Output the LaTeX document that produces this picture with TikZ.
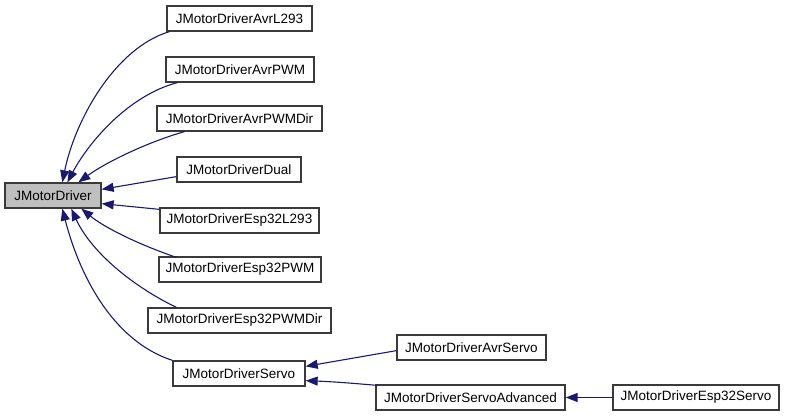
\documentclass[tikz,border=0pt]{standalone}
\usepackage{fontspec}
\setmainfont{Liberation Sans}
\usetikzlibrary{arrows.meta,calc}
\definecolor{edgecol}{HTML}{191970}
\definecolor{boxborder}{HTML}{3A3A3A}
\definecolor{curfill}{HTML}{BFBFBF}
\tikzset{
  cls/.style={draw=boxborder, line width=1.3pt, fill=white, minimum height=25pt, inner sep=0pt, anchor=center,
    font=\fontsize{13.5}{15}\selectfont},
  cur/.style={cls, fill=curfill},
  edge/.style={draw=edgecol, line width=1.1pt, -{Triangle[length=12pt,width=9pt]}},
}
\begin{document}
\begin{tikzpicture}[x=1pt,y=-1pt]
\useasboundingbox (0,0) rectangle (785,417);
\node[cur, minimum width=96pt] (jmd) at (53,195.5) {JMotorDriver};
\node[cls, minimum width=145pt] (avrl293) at (239.5,18.5) {JMotorDriverAvrL293};
\node[cls, minimum width=148pt] (avrpwm) at (240,69.5) {JMotorDriverAvrPWM};
\node[cls, minimum width=165pt] (avrpwmdir) at (239.5,118.5) {JMotorDriverAvrPWMDir};
\node[cls, minimum width=124pt] (dual) at (239,169.5) {JMotorDriverDual};
\node[cls, minimum width=159pt] (esp32l293) at (239.5,220.5) {JMotorDriverEsp32L293};
\node[cls, minimum width=162pt] (esp32pwm) at (240,269.5) {JMotorDriverEsp32PWM};
\node[cls, minimum width=183pt] (esp32pwmdir) at (239.5,320.5) {JMotorDriverEsp32PWMDir};
\node[cls, minimum width=132pt] (servo) at (239,373.5) {JMotorDriverServo};
\node[cls, minimum width=149pt] (avrservo) at (471.5,347.5) {JMotorDriverAvrServo};
\node[cls, minimum width=189pt] (servoadv) at (470.5,397.5) {JMotorDriverServoAdvanced};
\node[cls, minimum width=166pt] (esp32servo) at (696,397.5) {JMotorDriverEsp32Servo};

% edges to JMotorDriver (jmd.north west = (5,183))
\draw[edge] ($(avrl293.south west)+(3,0)$) .. controls (115,48) and (75,120) .. ($(jmd.north west)+(58,0)$);
\draw[edge] ($(avrpwm.south west)+(12,0)$) .. controls (130,95) and (90,140) .. ($(jmd.north west)+(63,0)$);
\draw[edge] ($(avrpwmdir.south west)+(28,0)$) .. controls (145,143) and (105,163) .. ($(jmd.north west)+(74,0)$);
\draw[edge] ($(dual.south west)+(0,-6)$) -- ($(jmd.north east)+(0,7)$);
\draw[edge] ($(esp32l293.north west)+(0,2)$) -- ($(jmd.south east)+(0,-5)$);
\draw[edge] ($(esp32pwm.north west)+(18,1)$) .. controls (140,245) and (105,228) .. ($(jmd.south west)+(77,0)$);
\draw[edge] ($(esp32pwmdir.north west)+(29,0)$) .. controls (130,285) and (90,250) .. ($(jmd.south west)+(67,0)$);
\draw[edge] (servo.north west) .. controls (110,340) and (78,270) .. ($(jmd.south west)+(58,0)$);

% edges to JMotorDriverServo
\draw[edge] ($(avrservo.south west)+(0,-10)$) -- ($(servo.north east)+(0,6)$);
\draw[edge] ($(servoadv.north west)+(2,1)$) .. controls (360,384) and (340,382) .. ($(servo.south east)+(0,-6)$);
% edge to ServoAdvanced
\draw[edge] (esp32servo.west) -- (servoadv.east);
\end{tikzpicture}
\end{document}
